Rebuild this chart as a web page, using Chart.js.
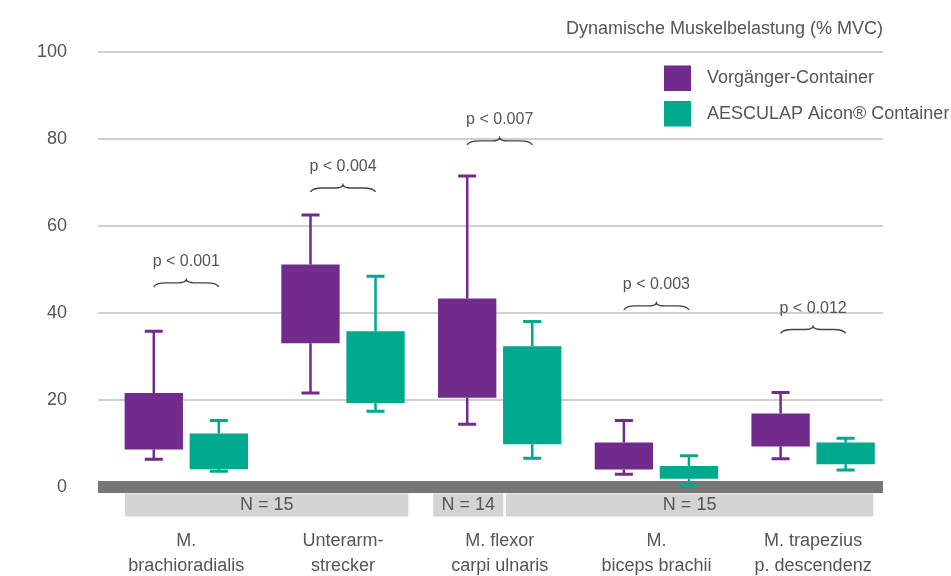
<!DOCTYPE html>
<html>
<head>
<meta charset="utf-8">
<script src="https://cdn.jsdelivr.net/npm/chart.js@4.4.1/dist/chart.umd.min.js"></script>
<style>
    html, body { margin: 0; padding: 0; background: #fff; }
    #wrap { width: 951px; height: 576px; }
</style>
</head>
<body>
<div id="wrap"><canvas id="muskelChart"></canvas></div>
<script>
const categories = [
    ['M.', 'brachioradialis'],
    ['Unterarm-', 'strecker'],
    ['M. flexor', 'carpi ulnaris'],
    ['M.', 'biceps brachii'],
    ['M. trapezius', 'p. descendenz']
];

// Vorgänger-Container
const vorgMin = [6.4, 21.6, 14.4, 2.9, 6.5];
const vorgQ1 = [8.6, 33.0, 20.5, 4.0, 9.3];
const vorgQ3 = [21.6, 51.1, 43.3, 10.2, 16.9];
const vorgMax = [35.8, 62.5, 71.4, 15.3, 21.7];

// AESCULAP Aicon Container
const aescMin = [3.6, 17.4, 6.6, 0.3, 3.9];
const aescQ1 = [4.1, 19.3, 9.8, 1.9, 5.2];
const aescQ3 = [12.3, 35.8, 32.3, 4.8, 10.2];
const aescMax = [15.3, 48.4, 38.0, 7.2, 11.2];

const pLabels = ['p < 0.001', 'p < 0.004', 'p < 0.007', 'p < 0.003', 'p < 0.012'];
const braceLevels = [46.2, 68.0, 78.8, 40.9, 35.5];

const nLabels = ['N = 15', 'N = 14', 'N = 15'];
const yTicks = [0, 20, 40, 60, 80, 100];

const FONT = "'Liberation Sans', Arial, sans-serif";
const GREY = '#555';
const PURPLE = '#702b8c';
const TEAL = '#00a88e';

const ourCanvas = document.getElementById('muskelChart');

// whiskers with caps on top of the floating bars
const whiskerPlugin = {
    id: 'whiskers',
    afterDatasetsDraw(chart) {
        const ctx = chart.ctx;
        const y = chart.scales.y;
        chart.data.datasets.forEach((ds, i) => {
            const meta = chart.getDatasetMeta(i);
            meta.data.forEach((bar, j) => {
                const top = y.getPixelForValue(ds.whiskerMax[j]);
                const bottom = y.getPixelForValue(ds.whiskerMin[j]);
                const boxTop = y.getPixelForValue(ds.data[j].y[1]);
                const boxBottom = y.getPixelForValue(ds.data[j].y[0]);
                ctx.save();
                ctx.strokeStyle = ds.backgroundColor;
                ctx.lineWidth = 2.5;
                ctx.beginPath();
                ctx.moveTo(bar.x, top);
                ctx.lineTo(bar.x, boxTop);
                ctx.moveTo(bar.x, boxBottom);
                ctx.lineTo(bar.x, bottom);
                ctx.stroke();
                ctx.lineWidth = 3;
                ctx.beginPath();
                ctx.moveTo(bar.x - 9, top);
                ctx.lineTo(bar.x + 9, top);
                ctx.moveTo(bar.x - 9, bottom);
                ctx.lineTo(bar.x + 9, bottom);
                ctx.stroke();
                ctx.restore();
            });
        });
    }
};

// curly braces + p values
const bracePlugin = {
    id: 'braces',
    afterDatasetsDraw(chart) {
        const ctx = chart.ctx;
        const y = chart.scales.y;
        const a = chart.getDatasetMeta(0).data;
        const b = chart.getDatasetMeta(1).data;
        pLabels.forEach((txt, j) => {
            const x0 = a[j].x, x1 = b[j].x, xm = (x0 + x1) / 2;
            const yb = y.getPixelForValue(braceLevels[j]);
            ctx.save();
            ctx.strokeStyle = '#444';
            ctx.lineWidth = 1.4;
            ctx.beginPath();
            ctx.moveTo(x0, yb + 1);
            ctx.quadraticCurveTo(x0 + 2, yb - 3, x0 + 12, yb - 3);
            ctx.lineTo(xm - 8, yb - 3);
            ctx.quadraticCurveTo(xm - 1, yb - 3, xm, yb - 6);
            ctx.quadraticCurveTo(xm + 1, yb - 3, xm + 8, yb - 3);
            ctx.lineTo(x1 - 12, yb - 3);
            ctx.quadraticCurveTo(x1 - 2, yb - 3, x1, yb + 1);
            ctx.stroke();
            ctx.fillStyle = GREY;
            ctx.font = '16px ' + FONT;
            ctx.textAlign = 'center';
            ctx.textBaseline = 'middle';
            ctx.fillText(txt, xm, yb - 24);
            ctx.restore();
        });
    }
};

// grey N bands under the baseline
const nBandPlugin = {
    id: 'nBands',
    afterDraw(chart, args, opts) {
        const ctx = chart.ctx;
        const x = chart.scales.x;
        const top = chart.chartArea.bottom + 6.5;
        nLabels.forEach((txt, k) => {
            const l = x.getPixelForValue(opts.edges[k][0]);
            const r = x.getPixelForValue(opts.edges[k][1]);
            ctx.save();
            ctx.fillStyle = '#d4d4d5';
            ctx.fillRect(l, top, r - l, 23);
            ctx.fillStyle = GREY;
            ctx.font = '18px ' + FONT;
            ctx.textAlign = 'center';
            ctx.textBaseline = 'middle';
            ctx.fillText(txt, (l + r) / 2, top + 12);
            ctx.restore();
        });
    }
};

// legend drawn in the upper right corner
const legendPlugin = {
    id: 'boxLegend',
    afterDraw(chart) {
        const ctx = chart.ctx;
        chart.data.datasets.forEach((ds, i) => {
            const top = 65.5 + i * 35.5;
            ctx.save();
            ctx.fillStyle = ds.backgroundColor;
            ctx.fillRect(664, top, 27, 25.5);
            ctx.fillStyle = GREY;
            ctx.font = '18px ' + FONT;
            ctx.textAlign = 'left';
            ctx.textBaseline = 'middle';
            ctx.fillText(ds.label, 707, top + 13);
            ctx.restore();
        });
    }
};

new Chart(ourCanvas, {
    type: 'bar',
    data: {
        datasets: [
            {
                label: 'Vorgänger-Container',
                data: vorgQ1.map((q, i) => ({ x: i, y: [q, vorgQ3[i]] })),
                whiskerMin: vorgMin,
                whiskerMax: vorgMax,
                backgroundColor: PURPLE,
                borderWidth: 0,
            },
            {
                label: 'AESCULAP Aicon® Container',
                data: aescQ1.map((q, i) => ({ x: i, y: [q, aescQ3[i]] })),
                whiskerMin: aescMin,
                whiskerMax: aescMax,
                backgroundColor: TEAL,
                borderWidth: 0,
            }
        ]
    },
    options: {
        responsive: true,
        maintainAspectRatio: false,
        animation: false,
        categoryPercentage: 0.83,
        barPercentage: 0.897,
        layout: {
            padding: { left: 37, right: 68, top: 0, bottom: 0 }
        },
        plugins: {
            legend: { display: false },
            tooltip: { enabled: false },
            title: {
                display: true,
                text: 'Dynamische Muskelbelastung (% MVC)',
                align: 'end',
                color: GREY,
                font: { family: FONT, size: 18, weight: 'normal' },
                padding: { top: 18, bottom: 12 }
            },
            nBands: {
                edges: [[-0.391, 1.417], [1.576, 2.023], [2.040, 4.384]]
            }
        },
        scales: {
            x: {
                type: 'linear',
                offset: false,
                min: -0.5635,
                max: 4.446,
                afterBuildTicks: (axis) => {
                    axis.ticks = categories.map((c, i) => ({ value: i }));
                },
                afterFit: (axis) => {
                    axis.height = 89;
                    axis.paddingLeft = 0;
                    axis.paddingRight = 0;
                },
                grid: { display: false, drawTicks: false },
                border: { display: false },
                ticks: {
                    autoSkip: false,
                    maxRotation: 0,
                    padding: 41,
                    color: GREY,
                    font: { family: FONT, size: 18, lineHeight: 1.4 },
                    callback: (v) => categories[v]
                }
            },
            y: {
                min: 0,
                max: 100,
                afterBuildTicks: (axis) => {
                    axis.ticks = yTicks.map(v => ({ value: v }));
                },
                afterFit: (axis) => {
                    axis.width = 61;
                },
                border: { display: false },
                grid: {
                    drawTicks: false,
                    color: (c) => c.tick.value === 0 ? '#767676' : '#d0d0d0',
                    lineWidth: (c) => c.tick.value === 0 ? 12 : 2
                },
                ticks: {
                    padding: 31,
                    color: GREY,
                    font: { family: FONT, size: 18 }
                }
            }
        }
    },
    plugins: [whiskerPlugin, bracePlugin, nBandPlugin, legendPlugin]
});
</script>
</body>
</html>
